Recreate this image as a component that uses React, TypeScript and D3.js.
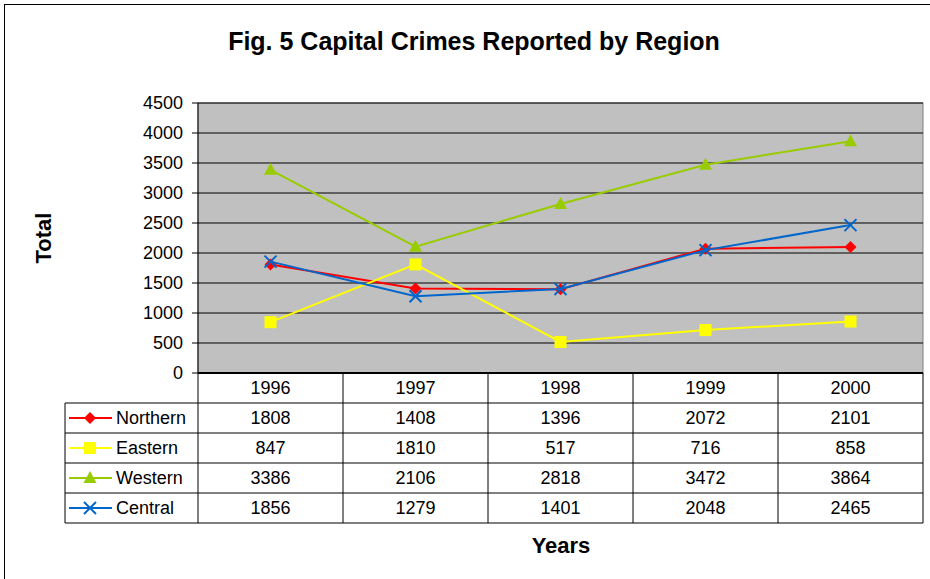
import * as d3 from 'd3';

const years = ['1996', '1997', '1998', '1999', '2000'];
const regions = ['Northern', 'Eastern', 'Western', 'Central'];
const northern = [1808, 1408, 1396, 2072, 2101];
const eastern = [847, 1810, 517, 716, 858];
const western = [3386, 2106, 2818, 3472, 3864];
const central = [1856, 1279, 1401, 2048, 2465];
const yTicks = [0, 500, 1000, 1500, 2000, 2500, 3000, 3500, 4000, 4500];

const colors = ['#FF0000', '#FFFF00', '#99CC00', '#0066CC'];
const markers = ['diamond', 'square', 'triangle', 'cross'];
const seriesValues = [northern, eastern, western, central];

const FONT = 'Arial, "Liberation Sans", sans-serif';

const Marker = ({ kind, x, y, color }: { kind: string; x: number; y: number; color: string }) => {
  if (kind === 'diamond') {
    return <path d={`M${x},${y - 6}L${x + 6},${y}L${x},${y + 6}L${x - 6},${y}Z`} fill={color} />;
  }
  if (kind === 'square') {
    return <rect x={x - 6} y={y - 6} width={12} height={12} fill={color} />;
  }
  if (kind === 'triangle') {
    return <path d={`M${x},${y - 7}L${x + 6.5},${y + 5}L${x - 6.5},${y + 5}Z`} fill={color} />;
  }
  return (
    <g stroke={color} strokeWidth={2}>
      <line x1={x - 6} y1={y - 6} x2={x + 6} y2={y + 6} />
      <line x1={x - 6} y1={y + 6} x2={x + 6} y2={y - 6} />
    </g>
  );
};

export default function App() {
  const left = 198;
  const right = 923;
  const top = 103;
  const bottom = 373;
  const rowH = 30;
  const tableLeft = 65;

  const x = d3.scaleBand().domain(years).range([left, right]).padding(0);
  const y = d3.scaleLinear().domain([0, 4500]).range([bottom, top]);
  const cx = (yr: string) => (x(yr) as number) + x.bandwidth() / 2;

  const line = d3
    .line<number>()
    .x((_, i) => cx(years[i]))
    .y((d) => y(d));

  return (
    <svg
      width={930}
      height={579}
      style={{ position: 'absolute', left: 0, top: 0, fontFamily: FONT }}
    >
      <rect x={0} y={0} width={930} height={579} fill="#fff" />
      <rect x={4.5} y={4.5} width={940} height={600} fill="none" stroke="#000" strokeWidth={1} />

      <text x={474} y={50} textAnchor="middle" fontSize={25} fontWeight="bold">
        Fig. 5 Capital Crimes Reported by Region
      </text>

      {/* plot area */}
      <rect x={left} y={top} width={right - left} height={bottom - top} fill="#C0C0C0" stroke="#808080" />
      {yTicks.map((t) => (
        <g key={t}>
          {t > 0 && <line x1={left} x2={right} y1={y(t)} y2={y(t)} stroke="#000" strokeWidth={1} />}
          <line x1={left - 6} x2={left} y1={y(t)} y2={y(t)} stroke="#000" />
          <text x={183} y={y(t)} dy="0.36em" textAnchor="end" fontSize={18}>
            {t}
          </text>
        </g>
      ))}
      <line x1={left} x2={left} y1={top} y2={bottom} stroke="#000" />
      <line x1={left} x2={right} y1={bottom} y2={bottom} stroke="#000" strokeWidth={2} />

      {seriesValues.map((vals, si) => (
        <g key={regions[si]}>
          <path d={line(vals) || ''} fill="none" stroke={colors[si]} strokeWidth={2} />
          {vals.map((v, i) => (
            <Marker key={i} kind={markers[si]} x={cx(years[i])} y={y(v)} color={colors[si]} />
          ))}
        </g>
      ))}

      {/* data table */}
      <g stroke="#000" strokeWidth={1}>
        {[0, 1, 2, 3, 4, 5].map((k) => (
          <line
            key={k}
            x1={k === 0 ? left : tableLeft}
            x2={right}
            y1={bottom + k * rowH}
            y2={bottom + k * rowH}
          />
        ))}
        <line x1={tableLeft} x2={tableLeft} y1={bottom + rowH} y2={bottom + 5 * rowH} />
        {years.map((yr) => (
          <line key={yr} x1={x(yr) as number} x2={x(yr) as number} y1={bottom} y2={bottom + 5 * rowH} />
        ))}
        <line x1={right} x2={right} y1={bottom} y2={bottom + 5 * rowH} />
      </g>
      {years.map((yr) => (
        <text key={yr} x={cx(yr)} y={bottom + rowH / 2} dy="0.36em" textAnchor="middle" fontSize={18}>
          {yr}
        </text>
      ))}
      {regions.map((r, si) => {
        const ry = bottom + (si + 1.5) * rowH;
        return (
          <g key={r}>
            <line x1={69} x2={112} y1={ry} y2={ry} stroke={colors[si]} strokeWidth={2} />
            <Marker kind={markers[si]} x={90} y={ry} color={colors[si]} />
            <text x={116} y={ry} dy="0.36em" fontSize={18}>
              {r}
            </text>
            {seriesValues[si].map((v, i) => (
              <text key={i} x={cx(years[i])} y={ry} dy="0.36em" textAnchor="middle" fontSize={18}>
                {v}
              </text>
            ))}
          </g>
        );
      })}

      <text
        transform={`translate(51,238) rotate(-90)`}
        textAnchor="middle"
        fontSize={22}
        fontWeight="bold"
      >
        Total
      </text>
      <text x={561} y={553} textAnchor="middle" fontSize={22} fontWeight="bold">
        Years
      </text>
    </svg>
  );
}
